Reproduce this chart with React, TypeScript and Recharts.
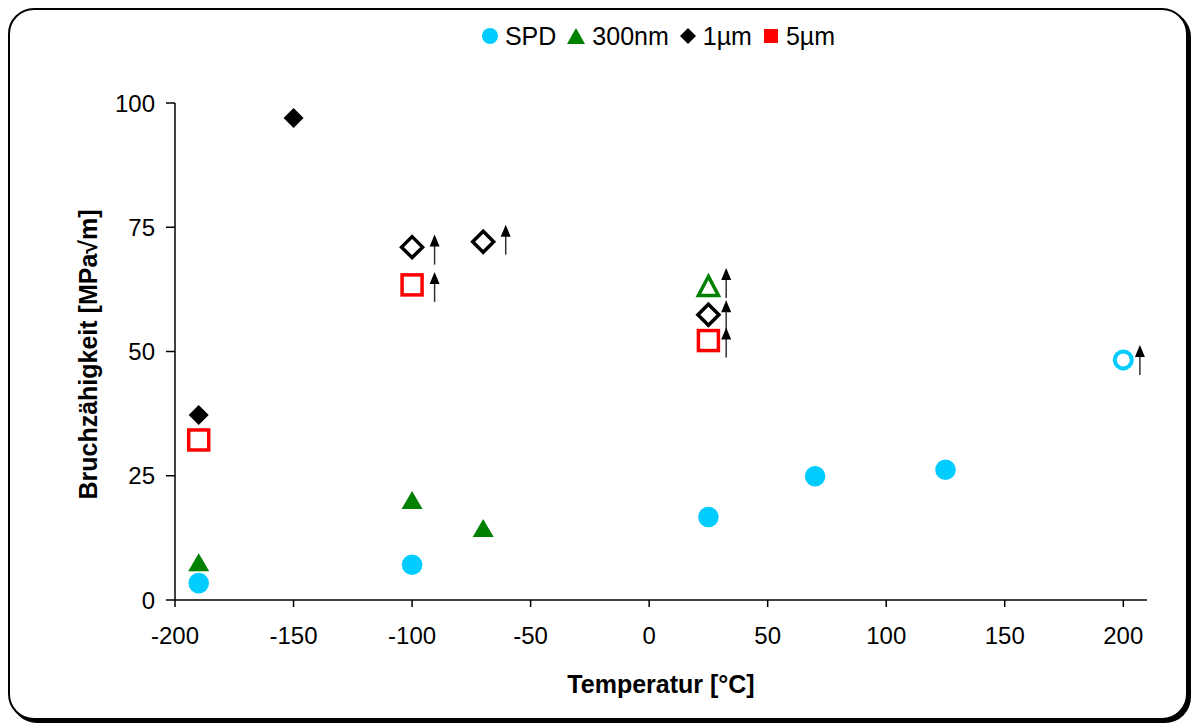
import React from 'react';
import { ScatterChart, Scatter, XAxis, YAxis, Legend } from 'recharts';

const FONT = '"Liberation Sans", Arial, sans-serif';

const xTicks = [-200, -150, -100, -50, 0, 50, 100, 150, 200];
const yTicks = [0, 25, 50, 75, 100];

const SPD_COLOR = '#00CCFF';
const NM300_COLOR = '#008000';
const UM1_COLOR = '#000000';
const UM5_COLOR = '#FF0000';

// open = lower bound (hollow marker, arrow)
const spd = [
  { x: -190, y: 3.4 },
  { x: -100, y: 7.1 },
  { x: 25, y: 16.7 },
  { x: 70, y: 24.9 },
  { x: 125, y: 26.2 },
  { x: 200, y: 48.3, open: true },
];
const nm300 = [
  { x: -190, y: 7.6 },
  { x: -100, y: 20.1 },
  { x: -70, y: 14.5 },
  { x: 25, y: 63.2, open: true },
];
const um1 = [
  { x: -190, y: 37.2 },
  { x: -150, y: 97.0 },
  { x: -100, y: 71.0, open: true },
  { x: -70, y: 72.1, open: true },
  { x: 25, y: 57.4, open: true },
];
const um5 = [
  { x: -190, y: 32.2, open: true },
  { x: -100, y: 63.4, open: true },
  { x: 25, y: 52.2, open: true },
];
const arrows = [
  { x: -90.5, y: 70.5 },
  { x: -90.5, y: 63.0 },
  { x: -60.5, y: 72.5 },
  { x: 32.5, y: 63.8 },
  { x: 32.5, y: 57.3 },
  { x: 32.5, y: 51.8 },
  { x: 207, y: 48.3 },
];

const circleShape = (p: any) => {
  const { cx, cy, payload } = p;
  if (payload && payload.open)
    return <circle cx={cx} cy={cy} r={8.5} fill="#fff" stroke={SPD_COLOR} strokeWidth={4} />;
  return <circle cx={cx} cy={cy} r={10.3} fill={SPD_COLOR} />;
};
const triShape = (p: any) => {
  const { cx, cy, payload } = p;
  if (payload && payload.open) {
    const w = 10, h = 9.5;
    return (
      <path
        d={`M${cx},${cy - h} L${cx + w},${cy + h} L${cx - w},${cy + h} Z`}
        fill="#fff"
        stroke={NM300_COLOR}
        strokeWidth={3.5}
        strokeLinejoin="miter"
      />
    );
  }
  const w = 10.5, h = 9;
  return <path d={`M${cx},${cy - h} L${cx + w},${cy + h} L${cx - w},${cy + h} Z`} fill={NM300_COLOR} />;
};
const diamondShape = (p: any) => {
  const { cx, cy, payload } = p;
  if (payload && payload.open) {
    const s = 10.5;
    return (
      <path
        d={`M${cx},${cy - s} L${cx + s},${cy} L${cx},${cy + s} L${cx - s},${cy} Z`}
        fill="#fff"
        stroke={UM1_COLOR}
        strokeWidth={3.5}
      />
    );
  }
  const s = 10;
  return <path d={`M${cx},${cy - s} L${cx + s},${cy} L${cx},${cy + s} L${cx - s},${cy} Z`} fill={UM1_COLOR} />;
};
const squareShape = (p: any) => {
  const { cx, cy, payload } = p;
  if (payload && payload.open) {
    const s = 10;
    return <rect x={cx - s} y={cy - s} width={2 * s} height={2 * s} fill="#fff" stroke={UM5_COLOR} strokeWidth={3.5} />;
  }
  const s = 9;
  return <rect x={cx - s} y={cy - s} width={2 * s} height={2 * s} fill={UM5_COLOR} />;
};
const arrowShape = (p: any) => {
  const { cx, cy } = p;
  const top = cy - 15;
  const bottom = cy + 15;
  return (
    <g>
      <line x1={cx} y1={bottom} x2={cx} y2={top + 8} stroke="#333" strokeWidth={1.5} />
      <path d={`M${cx},${top} L${cx + 5},${top + 12} L${cx - 5},${top + 12} Z`} fill="#000" />
    </g>
  );
};

const legendItems = [
  { name: 'SPD', icon: <circle cx={8} cy={8} r={8} fill={SPD_COLOR} />, w: 16 },
  { name: '300nm', icon: <path d="M9,0 L18,16 L0,16 Z" fill={NM300_COLOR} />, w: 18 },
  { name: '1µm', icon: <path d="M8,0 L16,8 L8,16 L0,8 Z" fill={UM1_COLOR} />, w: 16 },
  { name: '5µm', icon: <rect x={1} y={1} width={14} height={14} fill={UM5_COLOR} />, w: 16 },
];

const renderLegend = () => (
  <div
    style={{
      width: 1192,
      boxSizing: 'border-box',
      display: 'flex',
      justifyContent: 'center',
      alignItems: 'center',
      fontFamily: FONT,
      fontSize: 25,
      color: '#000',
      paddingLeft: 136,
      lineHeight: '30px',
    }}
  >
    {legendItems.map((it) => (
      <div key={it.name} style={{ display: 'flex', alignItems: 'center', marginRight: 11 }}>
        <svg width={it.w} height={16} style={{ marginRight: 7 }}>
          {it.icon}
        </svg>
        <span>{it.name}</span>
      </div>
    ))}
  </div>
);

const xLabel = (props: any) => {
  const vb = props.viewBox;
  return (
    <text
      x={vb.x + vb.width / 2}
      y={vb.y + 93}
      textAnchor="middle"
      fontFamily={FONT}
      fontWeight="bold"
      fontSize={25}
      fill="#000"
    >
      Temperatur [°C]
    </text>
  );
};
const yLabel = (props: any) => {
  const vb = props.viewBox;
  const x = vb.x + 97;
  const y = vb.y + vb.height / 2 + 3;
  return (
    <text
      x={x}
      y={y}
      transform={`rotate(-90, ${x}, ${y})`}
      textAnchor="middle"
      fontFamily={FONT}
      fontWeight="bold"
      fontSize={25}
      fill="#000"
    >
      Bruchzähigkeit [MPa√m]
    </text>
  );
};

export default function App() {
  return (
    <div style={{ position: 'absolute', left: 0, top: 0, width: 1192, height: 726, background: '#fff' }}>
      <div
        style={{
          position: 'absolute',
          left: 8,
          top: 8,
          width: 1180,
          height: 712,
          boxSizing: 'border-box',
          border: '2px solid #000',
          borderRadius: 26,
          boxShadow: '3px 3px 0 #000',
          background: '#fff',
        }}
      />
      <div style={{ position: 'absolute', left: 0, top: 0 }}>
        <ScatterChart width={1192} height={726} margin={{ top: 103, right: 45, bottom: 0, left: 0 }}>
          <XAxis
            type="number"
            dataKey="x"
            domain={[-200, 210]}
            ticks={xTicks}
            allowDataOverflow
            height={126}
            axisLine={{ stroke: '#000', strokeWidth: 1.5 }}
            tickLine={{ stroke: '#000', strokeWidth: 1.5 }}
            tickSize={7}
            tickMargin={20}
            tick={{ fill: '#000', fontSize: 24, fontFamily: FONT }}
            label={{ content: xLabel }}
          />
          <YAxis
            type="number"
            dataKey="y"
            domain={[0, 100]}
            ticks={yTicks}
            allowDataOverflow
            width={175}
            axisLine={{ stroke: '#000', strokeWidth: 1.5 }}
            tickLine={{ stroke: '#000', strokeWidth: 1.5 }}
            tickSize={9}
            tickMargin={11}
            tick={{ fill: '#000', fontSize: 24, fontFamily: FONT }}
            label={{ content: yLabel }}
          />
          <Legend
            verticalAlign="middle"
            align="center"
            content={renderLegend}
            wrapperStyle={{ top: 21, left: 0, width: 1192, height: 30 }}
          />
          <Scatter name="SPD" data={spd} shape={circleShape} isAnimationActive={false} />
          <Scatter name="300nm" data={nm300} shape={triShape} isAnimationActive={false} />
          <Scatter name="1µm" data={um1} shape={diamondShape} isAnimationActive={false} />
          <Scatter name="5µm" data={um5} shape={squareShape} isAnimationActive={false} />
          <Scatter name="arrows" data={arrows} shape={arrowShape} legendType="none" isAnimationActive={false} />
        </ScatterChart>
      </div>
    </div>
  );
}
